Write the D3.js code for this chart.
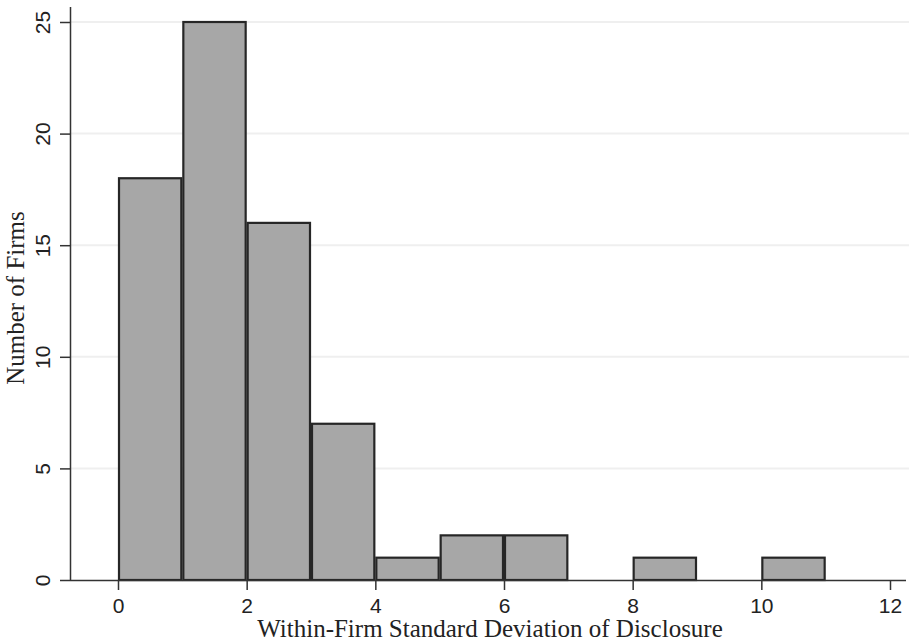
<!DOCTYPE html>
<html>
<head>
<meta charset="utf-8">
<script src="https://cdn.jsdelivr.net/npm/d3@7"></script>
<style>
    body { margin: 0; background: #fff; }
    svg { display: block; }
    .tick text { font-family: "Liberation Sans", Arial, sans-serif; font-size: 21px; fill: #222; }
    .title { font-family: "Liberation Serif", "Times New Roman", serif; font-size: 25px; fill: #222; }
</style>
</head>
<body>
<div id="chart"></div>
<script>
// histogram bins (width 1) and counts
let binStarts = [0, 1, 2, 3, 4, 5, 6, 7, 8, 9, 10];
let counts = [18, 25, 16, 7, 1, 2, 2, 0, 1, 0, 1];
let xTicks = [0, 2, 4, 6, 8, 10, 12];
let yTicks = [0, 5, 10, 15, 20, 25];

let width = 909,
    height = 644;

let svg = d3.select("#chart").append("svg")
    .attr("width", width)
    .attr("height", height);

let x = d3.scaleLinear().domain([0, 12]).range([118, 890]);
let y = d3.scaleLinear().domain([0, 25]).range([580, 22]);

// light gridlines
svg.append("g")
    .selectAll("line")
    .data(yTicks.filter(function(d) { return d > 0; }))
    .enter().append("line")
    .attr("x1", 71)
    .attr("x2", width)
    .attr("y1", function(d) { return y(d); })
    .attr("y2", function(d) { return y(d); })
    .attr("stroke", "#efefef")
    .attr("stroke-width", 2);

// bars
let bins = binStarts.map(function(d, i) { return { x0: d, x1: d + 1, n: counts[i] }; })
    .filter(function(d) { return d.n > 0; });

svg.append("g")
    .selectAll("rect")
    .data(bins)
    .enter().append("rect")
    .attr("x", function(d) { return x(d.x0) + 1; })
    .attr("width", function(d) { return x(d.x1) - x(d.x0) - 2; })
    .attr("y", function(d) { return y(d.n); })
    .attr("height", function(d) { return y(0) - y(d.n); })
    .attr("fill", "#a7a7a7")
    .attr("stroke", "#262626")
    .attr("stroke-width", 2.2);

// x axis
let xAxis = svg.append("g")
    .attr("transform", "translate(0," + y(0) + ")")
    .call(d3.axisBottom(x).tickValues(xTicks).tickSize(10).tickPadding(5).tickSizeOuter(0));
xAxis.select(".domain").attr("d", "M70,0.5H906").attr("stroke", "#333").attr("stroke-width", 1.5);
xAxis.selectAll(".tick line").attr("stroke", "#333").attr("stroke-width", 1.5);
xAxis.selectAll(".tick text").attr("y", 33).attr("dy", null);

// y axis
let yAxis = svg.append("g")
    .attr("transform", "translate(70,0)")
    .call(d3.axisLeft(y).tickValues(yTicks).tickSize(10).tickSizeOuter(0));
yAxis.select(".domain").attr("d", "M0.5,580V7").attr("stroke", "#333").attr("stroke-width", 1.5);
yAxis.selectAll(".tick line").attr("stroke", "#333").attr("stroke-width", 1.5);
yAxis.selectAll(".tick text")
    .attr("x", null)
    .attr("dy", null)
    .attr("text-anchor", "middle")
    .attr("transform", "translate(-20,0) rotate(-90)");

// axis titles
svg.append("text")
    .attr("class", "title")
    .attr("x", 490)
    .attr("y", 637)
    .attr("text-anchor", "middle")
    .text("Within-Firm Standard Deviation of Disclosure");

svg.append("text")
    .attr("class", "title")
    .attr("transform", "translate(24,298) rotate(-90)")
    .attr("text-anchor", "middle")
    .text("Number of Firms");
</script>
</body>
</html>
